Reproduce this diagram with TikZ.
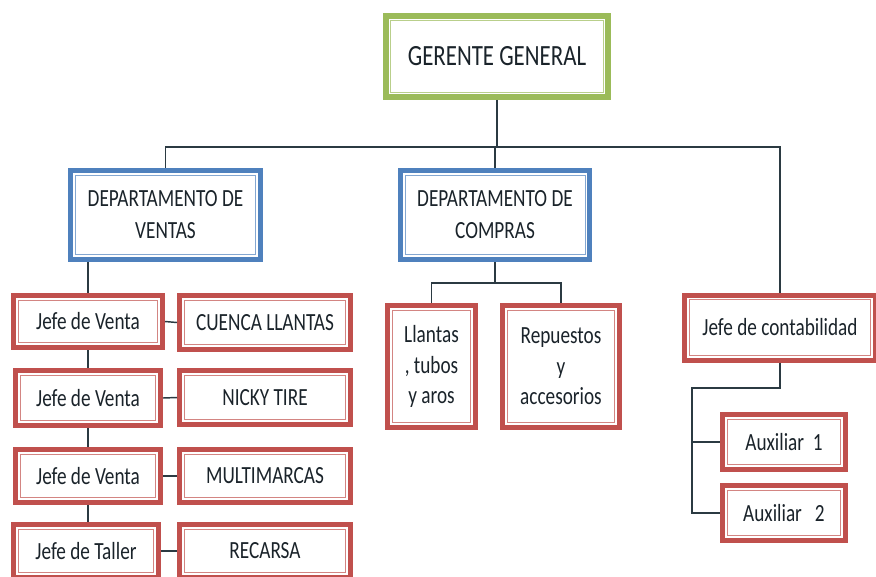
\documentclass[tikz,border=0pt]{standalone}
\usepackage{fontspec}
\setmainfont{Carlito}[FakeStretch=0.78]
\definecolor{boxred}{HTML}{C0504D}
\definecolor{boxblue}{HTML}{4F81BD}
\definecolor{boxgreen}{HTML}{9BBB59}
\definecolor{linkc}{HTML}{2B3A42}
\definecolor{textc}{HTML}{1A232A}
\tikzset{
  frame/.style={draw=#1, line width=3.75pt, fill=white, inner sep=2pt,
    align=center, text=textc, font=\fontsize{18.5}{23}\selectfont,
    path picture={\draw[#1!70, line width=0.6pt]
      ([shift={(3.5pt,3.5pt)}]path picture bounding box.south west) rectangle
      ([shift={(-3.5pt,-3.5pt)}]path picture bounding box.north east);}},
  redbox/.style={frame=boxred},
  bluebox/.style={frame=boxblue},
  link/.style={draw=linkc, line width=1.1pt}
}
\begin{document}
\begin{tikzpicture}[x=0.75pt,y=-0.75pt]
  \useasboundingbox (0,0) rectangle (876,576);
  % top level
  \node[frame=boxgreen, line width=4.5pt, minimum width=167pt, minimum height=60.5pt,
        font=\fontsize{22}{26}\selectfont] (gerente) at (497,56.5) {GERENTE GENERAL};
  \node[bluebox, minimum width=142.5pt, minimum height=66.75pt,
        font=\fontsize{18.5}{24}\selectfont] (ventas) at (165.5,215) {DEPARTAMENTO DE\\VENTAS};
  \node[bluebox, minimum width=142pt, minimum height=66.75pt,
        font=\fontsize{18.5}{24}\selectfont] (compras) at (495,215) {DEPARTAMENTO DE\\COMPRAS};
  \node[redbox, minimum width=143.25pt, minimum height=48.75pt] (contab) at (780,327.5) {Jefe de contabilidad};
  % ventas
  \node[redbox, minimum width=111.75pt, minimum height=39pt] (jefe1) at (88,321.5) {Jefe de Venta};
  \node[redbox, minimum width=128.25pt, minimum height=40.5pt] (cuenca) at (265,322.5) {CUENCA LLANTAS};
  \node[redbox, minimum width=108.75pt, minimum height=41.25pt] (jefe2) at (88,398) {Jefe de Venta};
  \node[redbox, minimum width=128.25pt, minimum height=40.5pt] (nicky) at (265,397.5) {NICKY TIRE};
  \node[redbox, minimum width=108.75pt, minimum height=39.75pt] (jefe3) at (88,476) {Jefe de Venta};
  \node[redbox, minimum width=128.25pt, minimum height=39.75pt] (multi) at (265,476) {MULTIMARCAS};
  \node[redbox, minimum width=108.75pt, minimum height=39.75pt] (taller) at (86,551) {Jefe de Taller};
  \node[redbox, minimum width=128.25pt, minimum height=39.75pt] (recarsa) at (265,551) {RECARSA};
  % compras
  \node[redbox, minimum width=66pt, minimum height=91.5pt] (llantas) at (431.5,366.5) {Llantas\\, tubos\\y aros};
  \node[redbox, minimum width=87.75pt, minimum height=91.5pt] (repuestos) at (561,366.5) {Repuestos\\y\\accesorios};
  % contabilidad
  \node[redbox, minimum width=92.25pt, minimum height=41.25pt] (aux1) at (784,442) {Auxiliar~~1};
  \node[redbox, minimum width=92.25pt, minimum height=41.25pt] (aux2) at (784,513) {Auxiliar~~~2};

  % connectors
  \coordinate (bus) at (497,147);
  \coordinate (cbus) at (692,388);
  \draw[link] (gerente.south) -- (bus);
  \draw[link] (ventas.north) |- (bus) -| (contab.north);
  \draw[link] (compras.north |- bus) -- (compras.north);
  \draw[link] (jefe1.north |- ventas.south) -- (jefe1.north);
  \draw[link] (jefe2.north |- jefe1.south) -- (jefe2.north);
  \draw[link] (jefe3.north |- jefe2.south) -- (jefe3.north);
  \draw[link] (jefe3.south) -- (jefe3.south |- taller.north);
  \draw[link] (jefe1.east) -- (cuenca.west);
  \draw[link] (jefe2.east) -- (nicky.west);
  \draw[link] (jefe3.east) -- (multi.west);
  \draw[link] (taller.east) -- (recarsa.west);
  \draw[link] (compras.south) -- ++(0,21) coordinate (cmid);
  \draw[link] (llantas.north) |- (cmid) -| (repuestos.north);
  \draw[link] (contab.south) |- (cbus) -- (cbus |- aux2.west) -- (aux2.west);
  \draw[link] (cbus |- aux1.west) -- (aux1.west);
\end{tikzpicture}
\end{document}
